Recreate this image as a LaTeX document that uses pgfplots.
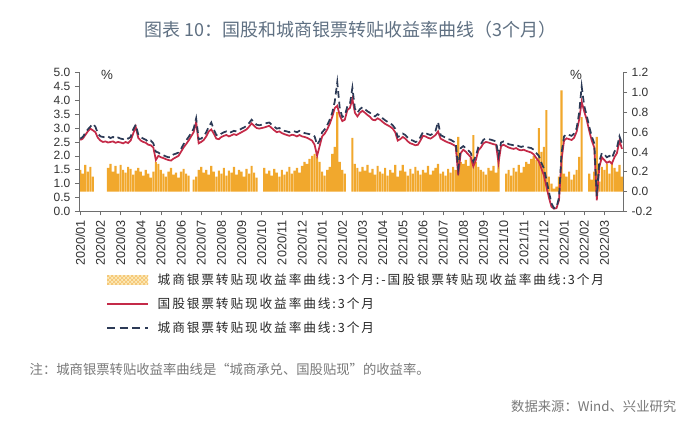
\documentclass[border=0pt]{standalone}
\usepackage{fontspec}
\setmainfont{Liberation Sans}
\newfontfamily\cjk{Noto Sans CJK SC}
\newfontfamily\cjkleg[LetterSpace=15]{Noto Sans CJK SC}
\usepackage{pgfplots}
\usepackage{pgfplotstable}
\pgfplotsset{compat=1.18}
\usetikzlibrary{patterns}
\definecolor{barcol}{RGB}{241,168,45}
\definecolor{legfill}{RGB}{252,234,185}
\definecolor{redcol}{RGB}{196,42,72}
\definecolor{navy}{RGB}{44,58,86}
\definecolor{titlecol}{RGB}{95,112,130}
\definecolor{notecol}{RGB}{120,120,120}
\definecolor{tickcol}{RGB}{50,50,50}
\definecolor{axcol}{RGB}{110,110,110}

\pgfplotstableread{
i gg cs sp
0 2.57 2.62 0.22
1 2.62 2.68 0.18
2 2.75 2.82 0.27
3 2.88 2.95 0.20
4 2.98 3.05 0.25
5 2.92 3.15 0.15
6 2.85 3.05 nan
7 2.65 2.80 nan
8 2.55 2.70 nan
9 2.50 2.68 nan
10 2.52 2.66 nan
11 2.48 2.70 0.24
12 2.50 2.64 0.28
13 2.52 2.68 0.20
14 2.47 2.62 0.26
15 2.50 2.66 0.18
16 2.48 2.62 0.27
17 2.45 2.60 0.22
18 2.50 2.66 0.19
19 2.46 2.62 0.25
20 2.55 2.68 0.23
21 2.80 2.95 0.17
22 3.05 3.12 0.21
23 2.65 2.78 0.24
24 2.55 2.68 0.20
25 2.50 2.62 0.16
26 2.47 2.58 0.22
27 2.40 2.50 0.18
28 2.38 2.55 0.14
29 2.30 2.45 0.20
30 1.85 2.15 0.30
31 2.00 2.12 0.28
32 1.95 2.05 0.22
33 1.92 2.02 0.18
34 1.88 1.98 0.15
35 1.85 1.95 0.20
36 1.83 1.95 0.24
37 1.90 2.05 0.17
38 1.95 2.08 0.19
39 2.00 2.12 0.14
40 2.15 2.25 0.20
41 2.30 2.42 0.23
42 2.42 2.55 0.18
43 2.55 2.68 0.16
44 2.70 2.82 nan
45 2.85 2.98 0.12
46 3.22 3.35 0.15
47 2.45 2.60 0.22
48 2.50 2.62 0.25
49 2.57 2.70 0.19
50 2.70 2.85 0.22
51 2.88 3.05 0.17
52 2.95 3.20 0.26
53 2.80 2.95 0.20
54 2.62 2.75 0.15
55 2.60 2.72 0.21
56 2.68 2.80 0.18
57 2.72 2.85 0.24
58 2.75 2.88 0.16
59 2.70 2.82 0.21
60 2.74 2.86 0.19
61 2.78 2.90 0.25
62 2.75 2.88 0.17
63 2.80 2.92 0.22
64 2.85 2.98 0.20
65 2.90 3.02 0.15
66 2.95 3.08 0.23
67 3.05 3.18 0.18
68 3.17 3.30 0.26
69 3.08 3.20 0.19
70 3.00 3.12 0.14
71 2.98 3.10 nan
72 3.00 3.12 nan
73 3.02 3.15 0.24
74 3.05 3.18 0.18
75 3.08 3.20 0.21
76 3.00 3.12 0.16
77 2.92 3.05 0.23
78 2.85 2.98 0.19
79 2.88 3.00 0.15
80 2.82 2.95 0.22
81 2.78 2.90 0.17
82 2.75 2.88 0.20
83 2.72 2.85 0.25
84 2.76 2.90 0.18
85 2.74 2.88 0.21
86 2.70 2.85 0.24
87 2.75 2.90 0.19
88 2.70 2.85 0.26
89 2.68 2.82 0.30
90 2.65 2.80 0.28
91 2.60 2.78 0.33
92 2.55 2.75 0.36
93 2.40 2.70 0.38
94 2.00 2.40 0.35
95 2.35 2.55 0.30
96 2.70 2.85 0.20
97 2.80 2.95 0.16
98 2.95 3.10 0.22
99 3.15 3.30 0.25
100 3.40 3.55 0.38
101 3.72 3.95 0.45
102 3.80 4.65 0.80
103 3.45 3.70 0.30
104 3.25 3.40 0.22
105 3.30 3.45 0.18
106 3.65 3.78 nan
107 3.72 3.85 nan
108 4.05 4.45 0.54
109 3.55 3.70 0.28
110 3.42 3.55 0.24
111 3.55 3.68 0.20
112 3.62 3.75 0.25
113 3.55 3.68 0.21
114 3.47 3.60 0.27
115 3.40 3.55 0.19
116 3.30 3.45 0.23
117 3.28 3.42 0.17
118 3.35 3.50 0.26
119 3.30 3.45 0.20
120 3.22 3.35 0.18
121 3.15 3.28 0.24
122 3.10 3.22 0.16
123 3.05 3.18 0.22
124 2.98 3.10 0.19
125 2.85 2.98 0.27
126 2.55 2.68 0.15
127 2.60 2.72 0.21
128 2.68 2.80 0.27
129 2.62 2.75 0.20
130 2.52 2.65 0.16
131 2.45 2.58 0.23
132 2.42 2.55 0.18
133 2.38 2.50 0.25
134 2.40 2.52 0.21
135 2.55 2.68 0.17
136 2.72 2.85 0.22
137 2.70 2.82 0.19
138 2.65 2.78 0.26
139 2.62 2.75 0.17
140 2.68 2.80 0.21
141 2.75 2.90 0.24
142 2.88 3.22 0.28
143 2.62 2.75 0.18
144 2.57 2.70 0.20
145 2.52 2.65 0.16
146 2.48 2.60 0.23
147 2.45 2.58 0.19
148 2.40 2.52 0.25
149 2.35 2.48 0.22
150 1.30 1.55 0.55
151 2.10 2.28 0.30
152 2.22 2.35 0.28
153 2.15 2.28 0.32
154 2.05 2.20 0.26
155 1.95 2.10 0.34
156 1.62 1.80 0.57
157 1.85 2.00 0.30
158 2.20 2.32 0.25
159 2.30 2.42 0.22
160 2.45 2.58 0.20
161 2.50 2.62 0.17
162 2.48 2.60 0.24
163 2.45 2.58 0.21
164 2.42 2.55 0.26
165 2.40 2.52 0.19
166 1.75 2.00 0.32
167 2.35 2.48 nan
168 2.40 2.52 nan
169 2.35 2.48 0.18
170 2.30 2.42 0.22
171 2.27 2.40 0.16
172 2.25 2.38 0.24
173 2.28 2.40 0.20
174 2.22 2.35 0.27
175 2.20 2.32 0.19
176 2.22 2.35 0.25
177 2.18 2.32 0.30
178 2.15 2.30 0.28
179 2.12 2.28 0.33
180 2.05 2.22 0.36
181 1.92 2.10 0.32
182 1.80 2.00 0.64
183 1.55 1.75 0.40
184 1.30 1.55 0.45
185 0.90 1.15 0.82
186 0.50 0.70 0.15
187 0.17 0.30 0.08
188 0.10 0.12 0.03
189 0.12 0.15 0.05
190 0.40 0.50 0.15
191 1.85 2.10 1.02
192 2.55 2.70 0.18
193 2.63 2.78 0.15
194 2.60 2.75 0.20
195 2.57 2.72 0.12
196 2.65 2.80 0.17
197 2.87 3.00 0.22
198 3.30 3.55 0.35
199 3.95 4.50 0.75
200 3.60 3.80 nan
201 3.30 3.45 nan
202 2.90 3.05 0.18
203 2.55 2.70 0.12
204 2.30 2.45 0.20
205 0.40 0.55 0.55
206 1.60 1.80 0.10
207 1.95 2.10 0.25
208 1.85 2.05 0.22
209 1.75 1.95 0.28
210 1.80 2.00 0.18
211 1.72 1.92 0.30
212 1.95 2.15 0.24
213 2.10 2.30 0.20
214 2.55 2.70 0.27
215 2.25 2.45 0.15
}\data

\pgfplotsset{
  common/.style={
    at={(59.25pt,177.4pt)}, anchor=south west,
    scale only axis, width=408pt, height=104.25pt,
    xmin=-0.5, xmax=215.4,
    axis line style={draw=axcol, line width=0.6pt},
    tick style={draw=axcol, line width=0.5pt},
    major tick length=3pt, tick align=outside,
    ticklabel style={font=\fontsize{9}{10}\selectfont, text=tickcol},
    /pgf/number format/assume math mode=true,
  }
}

\begin{document}
\begin{tikzpicture}
\path[use as bounding box] (0pt,0pt) rectangle (525pt,336pt);

% right axis: spread bars
\begin{axis}[common,
  ymin=-0.2, ymax=1.2,
  axis x line=none, axis y line*=right,
  ytick={-0.2,0,0.2,0.4,0.6,0.8,1.0,1.2},
  yticklabel style={/pgf/number format/.cd, fixed, fixed zerofill, precision=1},
]
\addplot[ybar, bar width=1.6pt, fill=barcol, draw=none] table[x=i, y=sp]{\data};
\end{axis}

% left axis: yield lines
\begin{axis}[common,
  ymin=0, ymax=5,
  axis x line*=bottom, axis y line*=left,
  ytick={0,0.5,1,1.5,2,2.5,3,3.5,4,4.5,5},
  yticklabel style={/pgf/number format/.cd, fixed, fixed zerofill, precision=1},
  xtick={0,8,...,208},
  xticklabels={2020/01,2020/02,2020/03,2020/04,2020/05,2020/06,2020/07,2020/08,2020/09,2020/10,2020/11,2020/12,2021/01,2021/02,2021/03,2021/04,2021/05,2021/06,2021/07,2021/08,2021/09,2021/10,2021/11,2021/12,2022/01,2022/02,2022/03},
  x tick label style={rotate=90, anchor=east, font=\fontsize{9.5}{10}\selectfont},
]
\addplot[redcol, line width=1.3pt, no marks] table[x=i, y=gg]{\data};
\addplot[navy, line width=1.3pt, dash pattern=on 5pt off 3pt, no marks] table[x=i, y=cs]{\data};
\end{axis}

% percent signs
\node[font=\fontsize{10}{12}\selectfont, text=tickcol] at (80.25pt,279.75pt) {\%};
\node[font=\fontsize{10}{12}\selectfont, text=tickcol] at (432pt,279.75pt) {\%};

% title
\node[text=titlecol] at (262.5pt,313.5pt) {\cjk\fontsize{13.5}{16}\selectfont 图表 10：国股和城商银票转贴收益率曲线（3个月）};

% legend
\fill[legfill] (80.25pt,122.5pt) rectangle (111pt,129.5pt);
\fill[pattern=crosshatch, pattern color=barcol!70] (80.25pt,122.5pt) rectangle (111pt,129.5pt);
\node[anchor=west, text=black!85] at (114.75pt,126pt) {\cjkleg\fontsize{9.5}{11}\selectfont 城商银票转贴现收益率曲线:3个月:-国股银票转贴现收益率曲线:3个月};
\draw[redcol, line width=1.5pt] (80.25pt,108pt) -- (111pt,108pt);
\node[anchor=west, text=black!85] at (114.75pt,108pt) {\cjkleg\fontsize{9.5}{11}\selectfont 国股银票转贴现收益率曲线:3个月};
\draw[navy, line width=1.5pt, dash pattern=on 6pt off 3.5pt] (80.25pt,90pt) -- (111pt,90pt);
\node[anchor=west, text=black!85] at (114.75pt,90pt) {\cjkleg\fontsize{9.5}{11}\selectfont 城商银票转贴现收益率曲线:3个月};

% notes
\node[anchor=west, text=notecol] at (18.75pt,59.25pt) {\cjk\fontsize{10}{12}\selectfont 注：城商银票转贴收益率曲线是“城商承兑、国股贴现”的收益率。};
\node[anchor=east, text=notecol] at (510.75pt,31pt) {\cjk\fontsize{10}{12}\selectfont 数据来源：Wind、兴业研究};
\end{tikzpicture}
\end{document}
